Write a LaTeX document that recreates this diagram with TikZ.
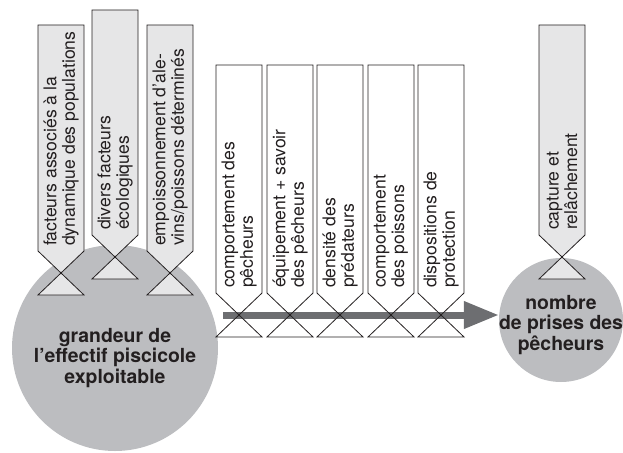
\documentclass[tikz,border=0pt]{standalone}
\usepackage{fontspec}
\setmainfont{TeX Gyre Heros}
\usetikzlibrary{arrows.meta}
\definecolor{tgris}{HTML}{E6E6E7}
\definecolor{tcercle}{HTML}{BCBDC0}
\definecolor{tfleche}{HTML}{6D6E71}
\definecolor{ttrait}{HTML}{231F20}

\begin{document}
\begin{tikzpicture}[
    x=1pt, y=-1pt,
    >={Triangle[length=35pt, width=26pt]},
    cercle/.style={circle, fill=tcercle, inner sep=0pt},
    grandtexte/.style={align=center, text=ttrait,
                       font=\fontsize{19.4}{20.5}\selectfont\bfseries},
    facteur/.style={draw=ttrait, line width=0.8pt, line join=miter},
    etiquette/.style={rotate=90, anchor=west, align=left, inner sep=2pt,
                      text=ttrait, font=\fontsize{17.6}{18.5}\selectfont},
    fleche/.style={->, line width=7pt, tfleche}
  ]
  \useasboundingbox (0,0) rectangle (623,452);
  \node[cercle, minimum size=206pt] (effectif) at (115,348) {};
  \node[grandtexte] (effectiftexte) at (115,358) {grandeur de\\l’effectif piscicole\\exploitable};
  \node[cercle, minimum size=124pt] (prises) at (561,320) {};
  \node[grandtexte] (prisestexte) at (561,325) {nombre\\de prises des\\pêcheurs};

  \coordinate (depart) at (223,315);
  \draw[fleche] (depart) -- (depart -| prises.west);

  % x gauche / haut / pointe / remplissage / nom / texte
  \foreach \x/\t/\p/\f/\nom/\txt in {
      38/25/273/tgris/dynamique/{facteurs associés à la\\dynamique des populations},
      92/10/257/tgris/ecologie/{divers facteurs\\écologiques},
      147/25/273/tgris/empoissonnement/{empoissonnement d’ale-\\vins/poissons déterminés},
      216/65/315/none/pecheurs/{comportement des\\pêcheurs},
      267/65/315/none/equipement/{équipement + savoir\\des pêcheurs},
      317/65/315/none/predateurs/{densité des\\prédateurs},
      368/65/315/none/poissons/{comportement\\des poissons},
      418/65/315/none/protection/{dispositions de\\protection},
      539/25/257/tgris/capture/{capture et\\relâchement}}
  {
    \draw[facteur, fill=\f] (\x,\t) -- ++(46,0) -- (\x+46,\p-22) -- (\x,\p+22)
      -- ++(46,0) -- (\x,\p-22) -- cycle;
    \node[etiquette] (\nom) at (\x+23,\p-25) {\txt};
  }
\end{tikzpicture}
\end{document}
